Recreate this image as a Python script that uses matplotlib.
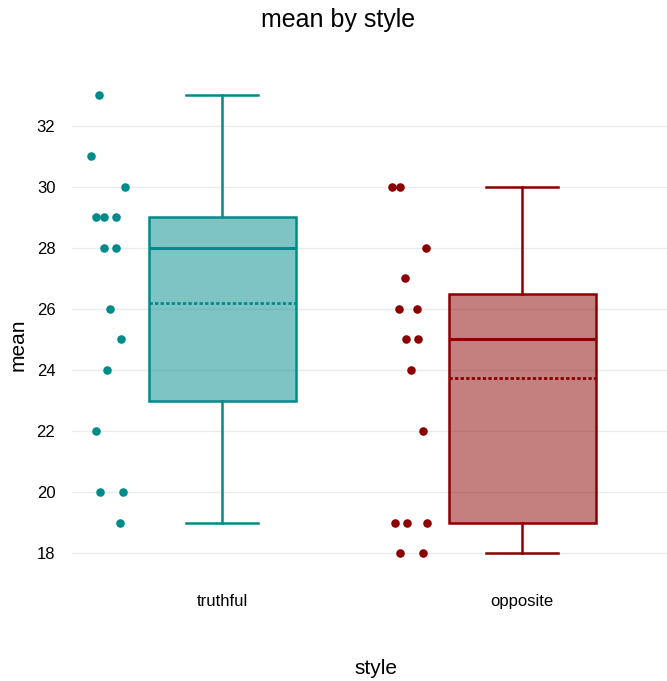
import matplotlib
matplotlib.use("Agg")
import matplotlib.pyplot as plt

plt.rcParams['font.family'] = ['Liberation Sans', 'DejaVu Sans']

categories = ["truthful", "opposite"]
colors = ["#008B8B", "#8B0000"]

truthful = [33, 31, 30, 29, 29, 29, 28, 28, 26, 25, 24, 22, 20, 20, 19]
opposite = [30, 30, 28, 27, 26, 26, 25, 25, 24, 22, 19, 19, 19, 18, 18]

# horizontal offsets of the dots (category units)
truthful_jitter = [-0.41, -0.437, -0.323, -0.42, -0.393, -0.353, -0.393, -0.353,
                   -0.373, -0.337, -0.383, -0.42, -0.407, -0.33, -0.34]
opposite_jitter = [-0.433, -0.407, -0.32, -0.39, -0.41, -0.35, -0.387, -0.347,
                   -0.37, -0.33, -0.423, -0.383, -0.317, -0.407, -0.33]

yticks = [18, 20, 22, 24, 26, 28, 30, 32]

fig = plt.figure(figsize=(6.67, 6.81), dpi=100)
ax = fig.add_axes([72 / 667, 1 - 575 / 681, 1 - 72 / 667, 500 / 681])

data = [truthful, opposite]
jitters = [truthful_jitter, opposite_jitter]
for i, (vals, jit, col) in enumerate(zip(data, jitters, colors)):
    ax.boxplot([vals], positions=[i], widths=0.49, patch_artist=True,
               showmeans=True, meanline=True, showfliers=False,
               boxprops=dict(facecolor=col, edgecolor=col, linewidth=1.8),
               medianprops=dict(color=col, linewidth=2.2),
               meanprops=dict(color=col, linewidth=2.0, linestyle=(0, (1.2, 0.8))),
               whiskerprops=dict(color=col, linewidth=1.8),
               capprops=dict(color=col, linewidth=1.8),
               capwidths=0.24, zorder=3)
    ax.scatter([i + j for j in jit], vals, s=38, color=col, zorder=4, linewidths=0)

# semi-transparent box fill, opaque edge
for patch in ax.patches:
    fc = patch.get_facecolor()
    patch.set_facecolor((fc[0], fc[1], fc[2], 0.5))

ax.set_xlim(-0.5, 1.483)
ax.set_ylim(17.28, 33.67)
ax.set_xticks([0, 1])
ax.set_xticklabels(categories, fontsize=12)
ax.set_yticks(yticks)
ax.tick_params(axis='y', labelsize=12, length=0, pad=12)
ax.tick_params(axis='x', length=0, pad=14)
ax.grid(axis='y', color='#ebebeb', linewidth=1)
ax.set_axisbelow(True)
for s in ax.spines.values():
    s.set_visible(False)

fig.text(376 / 667, 1 - 668 / 681, "style", ha='center', va='center', fontsize=15)
fig.text(18 / 667, 1 - 345 / 681, "mean", ha='center', va='center', fontsize=15,
         rotation=90)
fig.text(338 / 667, 1 - 20 / 681, "mean by style", ha='center', va='center', fontsize=18)

fig.savefig("out.png", dpi=100)
